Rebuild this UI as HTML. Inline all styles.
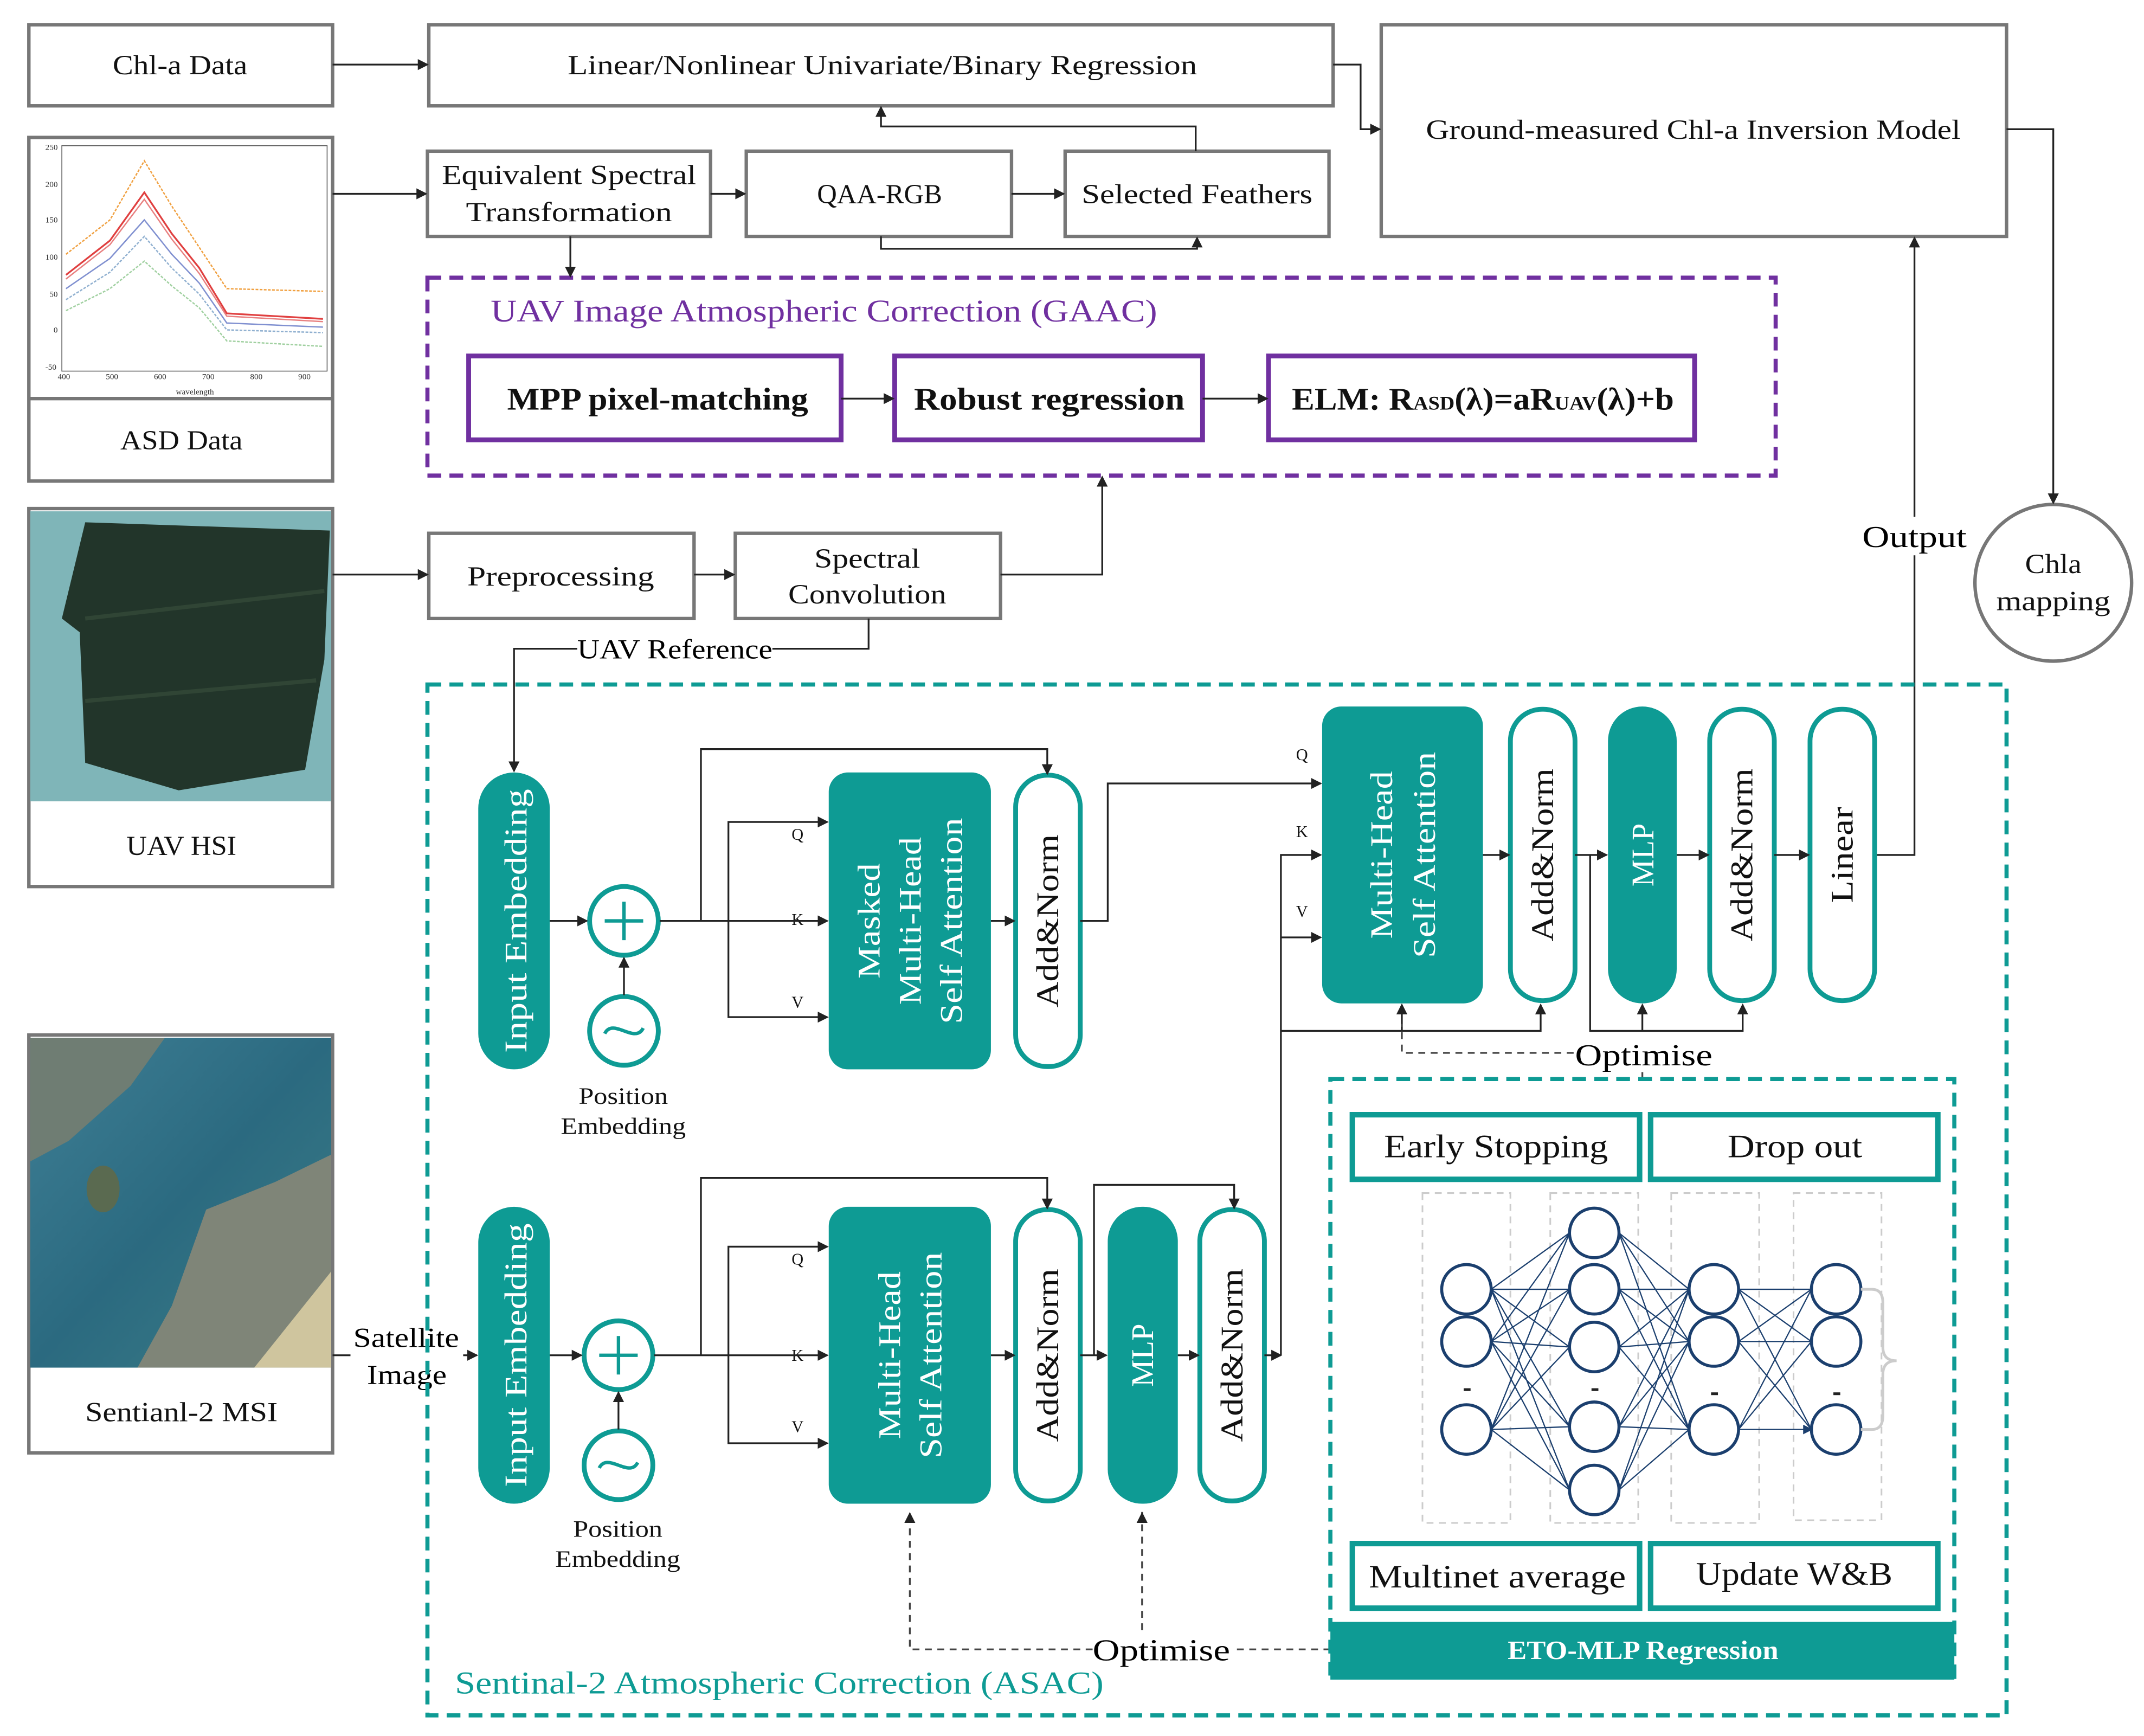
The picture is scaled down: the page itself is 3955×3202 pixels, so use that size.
<!DOCTYPE html>
<html><head><meta charset="utf-8"><style>
html,body{margin:0;padding:0;background:#fff;}
svg{display:block;}
text{font-family:"Liberation Serif",serif;}
</style></head><body>
<svg width="3955" height="3202" viewBox="0 0 1560 1263" xmlns="http://www.w3.org/2000/svg">
<defs>
<marker id="a" markerWidth="8" markerHeight="8" refX="7" refY="4" orient="auto" markerUnits="userSpaceOnUse"><path d="M0,0 L8,4 L0,8 z" fill="#222"/></marker>
<marker id="n" markerWidth="7" markerHeight="7" refX="6" refY="3.5" orient="auto" markerUnits="userSpaceOnUse"><path d="M0,0 L7,3.5 L0,7 z" fill="#1b3f6e"/></marker>
<linearGradient id="sea" x1="0" y1="0" x2="1" y2="1"><stop offset="0" stop-color="#3f7f95"/><stop offset="0.5" stop-color="#2b6a80"/><stop offset="1" stop-color="#3d7f86"/></linearGradient>
</defs>
<rect width="1560" height="1263" fill="#fff"/>
<g fill="none" stroke="#777" stroke-width="2.5">
<rect x="21" y="18" width="221" height="59"/>
<rect x="312" y="18" width="658" height="59"/>
<rect x="1005" y="18" width="455" height="154"/>
<rect x="21" y="100" width="221" height="250"/>
<line x1="21" y1="290" x2="242" y2="290"/>
<rect x="311" y="110" width="206" height="62"/>
<rect x="543" y="110" width="193" height="62"/>
<rect x="775" y="110" width="192" height="62"/>
<rect x="21" y="370" width="221" height="275"/>
<rect x="312" y="388" width="193" height="62"/>
<rect x="535" y="388" width="193" height="62"/>
<rect x="21" y="753" width="221" height="304"/>
<circle cx="1494" cy="424" r="57"/>
</g>
<!-- ASD chart -->
<g>
<rect x="45" y="106" width="193" height="164" fill="#fff" stroke="#555" stroke-width="0.6"/>
<g font-size="6" fill="#333">
<text x="33" y="109">250</text><text x="33" y="136">200</text><text x="33" y="162">150</text><text x="33" y="189">100</text><text x="36" y="216">50</text><text x="39" y="242">0</text><text x="33" y="269">-50</text>
<text x="42" y="276">400</text><text x="77" y="276">500</text><text x="112" y="276">600</text><text x="147" y="276">700</text><text x="182" y="276">800</text><text x="217" y="276">900</text>
<text x="128" y="287">wavelength</text>
</g>
<path d="M48,185 L80,160 L105,117 L125,150 L145,180 L165,210 L235,212" fill="none" stroke="#f0a040" stroke-width="1" stroke-dasharray="2,1"/>
<path d="M48,200 L80,175 L105,140 L125,170 L145,195 L165,228 L235,232" fill="none" stroke="#e04040" stroke-width="1.3"/>
<path d="M48,203 L80,178 L105,145 L125,174 L145,199 L165,230 L235,234" fill="none" stroke="#e88080" stroke-width="1"/>
<path d="M48,210 L80,188 L105,160 L125,185 L145,206 L165,235 L235,238" fill="none" stroke="#8090d0" stroke-width="1"/>
<path d="M48,218 L80,198 L105,172 L125,195 L145,214 L165,240 L235,242" fill="none" stroke="#90b0d0" stroke-width="1" stroke-dasharray="2,1"/>
<path d="M48,226 L80,210 L105,190 L125,208 L145,224 L165,248 L235,252" fill="none" stroke="#a0d0a0" stroke-width="1" stroke-dasharray="2,1"/>
</g>
<!-- UAV HSI image -->
<rect x="22" y="372" width="219" height="211" fill="#7fb5b8"/>
<path d="M62,380 L240,386 L236,480 L222,560 L130,575 L62,555 L58,460 L45,450 Z" fill="#22352a"/>
<path d="M62,450 L236,430 M62,510 L230,495" stroke="#304535" stroke-width="3"/>
<!-- Sentinel image -->
<rect x="22" y="755" width="219" height="240" fill="url(#sea)"/>
<path d="M22,755 L120,755 L95,790 L50,830 L22,845 Z" fill="#6f7d73"/>
<path d="M150,880 L200,860 L241,840 L241,995 L100,995 L125,950 Z" fill="#7f8578"/>
<path d="M185,995 L241,925 L241,995 Z" fill="#cfc59e"/>
<ellipse cx="75" cy="865" rx="12" ry="17" fill="#5a6a50"/>
<!-- labels -->
<g font-size="20" fill="#111" text-anchor="middle" lengthAdjust="spacingAndGlyphs">
<text x="131" y="54" textLength="98" lengthAdjust="spacingAndGlyphs">Chl-a Data</text>
<text x="642" y="54" textLength="458" lengthAdjust="spacingAndGlyphs">Linear/Nonlinear Univariate/Binary Regression</text>
<text x="1232" y="101" textLength="389" lengthAdjust="spacingAndGlyphs">Ground-measured Chl-a Inversion Model</text>
<text x="414" y="134" textLength="185" lengthAdjust="spacingAndGlyphs">Equivalent Spectral</text>
<text x="414" y="161" textLength="150" lengthAdjust="spacingAndGlyphs">Transformation</text>
<text x="640" y="148" textLength="91" lengthAdjust="spacingAndGlyphs">QAA-RGB</text>
<text x="871" y="148" textLength="168" lengthAdjust="spacingAndGlyphs">Selected Feathers</text>
<text x="132" y="327" textLength="89" lengthAdjust="spacingAndGlyphs">ASD Data</text>
<text x="408" y="426" textLength="136" lengthAdjust="spacingAndGlyphs">Preprocessing</text>
<text x="631" y="413" textLength="77" lengthAdjust="spacingAndGlyphs">Spectral</text>
<text x="631" y="439" textLength="115" lengthAdjust="spacingAndGlyphs">Convolution</text>
<text x="132" y="622" textLength="80" lengthAdjust="spacingAndGlyphs">UAV HSI</text>
<text x="132" y="1034" textLength="140" lengthAdjust="spacingAndGlyphs">Sentianl-2 MSI</text>
<text x="1494" y="417" textLength="41" lengthAdjust="spacingAndGlyphs">Chla</text>
<text x="1494" y="444" textLength="83" lengthAdjust="spacingAndGlyphs">mapping</text>
</g>
<!-- GAAC -->
<rect x="311" y="202" width="981" height="144" fill="none" stroke="#7030a0" stroke-width="3" stroke-dasharray="10,6"/>
<text x="357" y="234" font-size="23" fill="#7030a0" textLength="485" lengthAdjust="spacingAndGlyphs">UAV Image Atmospheric Correction (GAAC)</text>
<g fill="none" stroke="#7030a0" stroke-width="3.5">
<rect x="341" y="259" width="271" height="61"/><rect x="651" y="259" width="224" height="61"/><rect x="923" y="259" width="310" height="61"/>
</g>
<g font-size="23" font-weight="bold" fill="#111">
<text x="369" y="298" textLength="219" lengthAdjust="spacingAndGlyphs">MPP pixel-matching</text>
<text x="665" y="298" textLength="197" lengthAdjust="spacingAndGlyphs">Robust regression</text>
<text x="940" y="298" textLength="278" lengthAdjust="spacingAndGlyphs">ELM: R<tspan font-size="14">ASD</tspan>(λ)=aR<tspan font-size="14">UAV</tspan>(λ)+b</text>
</g>
<!-- top connectors -->
<g fill="none" stroke="#222" stroke-width="1.3" marker-end="url(#a)">
<path d="M242,47 H311"/>
<path d="M970,47 H990 V94 H1004"/>
<path d="M242,141 H310"/>
<path d="M517,141 H542"/>
<path d="M736,141 H774"/>
<path d="M870,110 V92 H641 V78"/>
<path d="M641,172 V181 H871 V173"/>
<path d="M415,172 V201"/>
<path d="M612,290 H650"/>
<path d="M875,290 H922"/>
<path d="M242,418 H311"/>
<path d="M505,418 H534"/>
<path d="M728,418 H802 V347"/>
<path d="M632,450 V472 H374 V561"/>
<path d="M1365,622 H1393 V173"/>
<path d="M1460,94 H1494 V366"/>
<path d="M242,986 H347"/>
</g>
<rect x="420" y="461" width="142" height="22" fill="#fff"/>
<text x="420" y="479" font-size="20" textLength="142" lengthAdjust="spacingAndGlyphs">UAV Reference</text>
<rect x="1355" y="376" width="78" height="28" fill="#fff"/>
<text x="1355" y="398" font-size="22" textLength="76" lengthAdjust="spacingAndGlyphs">Output</text>
<rect x="255" y="960" width="82" height="52" fill="#fff"/>
<text x="257" y="980" font-size="20" textLength="77" lengthAdjust="spacingAndGlyphs">Satellite</text>
<text x="267" y="1007" font-size="20" textLength="58" lengthAdjust="spacingAndGlyphs">Image</text>
<!-- ASAC -->
<rect x="311" y="498" width="1149" height="750" fill="none" stroke="#0e9b94" stroke-width="3" stroke-dasharray="10,6"/>
<text x="331" y="1232" font-size="23" fill="#0e9b94" textLength="472" lengthAdjust="spacingAndGlyphs">Sentinal-2 Atmospheric Correction (ASAC)</text>
<!-- transformer blocks -->
<g fill="#0e9b94">
<rect x="348" y="562" width="52" height="216" rx="26"/>
<rect x="603" y="562" width="118" height="216" rx="14"/>
<rect x="962" y="514" width="117" height="216" rx="14"/>
<rect x="1170" y="514" width="50" height="216" rx="25"/>
<rect x="348" y="878" width="52" height="216" rx="26"/>
<rect x="603" y="878" width="118" height="216" rx="14"/>
<rect x="806" y="878" width="51" height="216" rx="25"/>
</g>
<g fill="#fff" stroke="#0e9b94" stroke-width="3.5">
<rect x="739" y="564" width="47" height="212" rx="23"/>
<rect x="1099" y="516" width="47" height="212" rx="23"/>
<rect x="1244" y="516" width="47" height="212" rx="23"/>
<rect x="1317" y="516" width="47" height="212" rx="23"/>
<rect x="739" y="880" width="47" height="212" rx="23"/>
<rect x="873" y="880" width="47" height="212" rx="23"/>
<circle cx="454" cy="670" r="25"/><circle cx="454" cy="750" r="25"/>
<circle cx="450" cy="986" r="25"/><circle cx="450" cy="1066" r="25"/>
</g>
<g stroke="#0e9b94" stroke-width="2.5" fill="none">
<path d="M454,656 V684 M440,670 H468"/><path d="M450,972 V1000 M436,986 H464"/>
<path d="M440,752 C446,740 462,760 468,748"/><path d="M436,1068 C442,1056 458,1076 464,1064"/>
</g>
<g font-size="23" text-anchor="middle">
<text transform="translate(383,670) rotate(-90)" fill="#fff" textLength="192" lengthAdjust="spacingAndGlyphs">Input Embedding</text>
<text transform="translate(383,986) rotate(-90)" fill="#fff" textLength="192" lengthAdjust="spacingAndGlyphs">Input Embedding</text>
<text transform="translate(640,670) rotate(-90)" fill="#fff" textLength="84" lengthAdjust="spacingAndGlyphs">Masked</text>
<text transform="translate(670,670) rotate(-90)" fill="#fff" textLength="122" lengthAdjust="spacingAndGlyphs">Multi-Head</text>
<text transform="translate(700,670) rotate(-90)" fill="#fff" textLength="150" lengthAdjust="spacingAndGlyphs">Self Attention</text>
<text transform="translate(655,986) rotate(-90)" fill="#fff" textLength="122" lengthAdjust="spacingAndGlyphs">Multi-Head</text>
<text transform="translate(685,986) rotate(-90)" fill="#fff" textLength="150" lengthAdjust="spacingAndGlyphs">Self Attention</text>
<text transform="translate(1013,622) rotate(-90)" fill="#fff" textLength="122" lengthAdjust="spacingAndGlyphs">Multi-Head</text>
<text transform="translate(1044,622) rotate(-90)" fill="#fff" textLength="150" lengthAdjust="spacingAndGlyphs">Self Attention</text>
<text transform="translate(1203,622) rotate(-90)" fill="#fff" textLength="46" lengthAdjust="spacingAndGlyphs">MLP</text>
<text transform="translate(839,986) rotate(-90)" fill="#fff" textLength="46" lengthAdjust="spacingAndGlyphs">MLP</text>
<text transform="translate(770,670) rotate(-90)" fill="#111" textLength="126" lengthAdjust="spacingAndGlyphs">Add&amp;Norm</text>
<text transform="translate(770,986) rotate(-90)" fill="#111" textLength="126" lengthAdjust="spacingAndGlyphs">Add&amp;Norm</text>
<text transform="translate(904,986) rotate(-90)" fill="#111" textLength="126" lengthAdjust="spacingAndGlyphs">Add&amp;Norm</text>
<text transform="translate(1130,622) rotate(-90)" fill="#111" textLength="126" lengthAdjust="spacingAndGlyphs">Add&amp;Norm</text>
<text transform="translate(1275,622) rotate(-90)" fill="#111" textLength="126" lengthAdjust="spacingAndGlyphs">Add&amp;Norm</text>
<text transform="translate(1348,622) rotate(-90)" fill="#111" textLength="70" lengthAdjust="spacingAndGlyphs">Linear</text>
</g>
<g font-size="17" fill="#111">
<text x="421" y="803" textLength="65" lengthAdjust="spacingAndGlyphs">Position</text><text x="408" y="825" textLength="91" lengthAdjust="spacingAndGlyphs">Embedding</text>
<text x="417" y="1118" textLength="65" lengthAdjust="spacingAndGlyphs">Position</text><text x="404" y="1140" textLength="91" lengthAdjust="spacingAndGlyphs">Embedding</text>
</g>
<g font-size="12" fill="#111">
<text x="576" y="611">Q</text><text x="576" y="673">K</text><text x="576" y="733">V</text>
<text x="576" y="920">Q</text><text x="576" y="990">K</text><text x="576" y="1042">V</text>
<text x="943" y="553">Q</text><text x="943" y="609">K</text><text x="943" y="667">V</text>
</g>
<g fill="none" stroke="#222" stroke-width="1.3" marker-end="url(#a)">
<path d="M400,670 H427"/><path d="M454,724 V697"/>
<path d="M480,670 H602"/>
<path d="M510,670 V545 H762 V563"/>
<path d="M530,670 V598 H602"/><path d="M530,670 V740 H602"/>
<path d="M721,670 H738"/>
<path d="M786,670 H806 V570 H961"/>
<path d="M932,986 V622 H961"/><path d="M932,682 H961"/>
<path d="M932,750 H1121 V731"/><path d="M1020,750 V731"/>
<path d="M1079,622 H1098"/><path d="M1146,622 H1169"/>
<path d="M1157,622 V750 H1268 V731"/><path d="M1195,750 V731"/>
<path d="M1220,622 H1243"/><path d="M1291,622 H1316"/>
<path d="M400,986 H423"/><path d="M450,1040 V1013"/>
<path d="M476,986 H602"/>
<path d="M510,986 V857 H762 V879"/>
<path d="M530,986 V907 H602"/><path d="M530,986 V1050 H602"/>
<path d="M721,986 H738"/><path d="M786,986 H805"/>
<path d="M796,986 V862 H898 V879"/>
<path d="M857,986 H872"/><path d="M920,986 H932"/>
</g>
<g fill="none" stroke="#444" stroke-width="1.3" stroke-dasharray="5,4">
<path d="M1145,766 H1020 V745"/><path d="M1195,785 V778"/>
<path d="M968,1200 H898"/><path d="M795,1200 H662 V1100"/><path d="M831,1186 V1100"/>
</g>
<path d="M662,1100 l-4,8 h8z M831,1100 l-4,8 h8z" fill="#222"/>
<text x="1146" y="775" font-size="22" textLength="100" lengthAdjust="spacingAndGlyphs">Optimise</text>
<text x="795" y="1208" font-size="22" textLength="100" lengthAdjust="spacingAndGlyphs">Optimise</text>
<!-- ETO -->
<rect x="968" y="785" width="454" height="435" fill="none" stroke="#0e9b94" stroke-width="3" stroke-dasharray="10,6"/>
<rect x="968" y="1180" width="454" height="42" fill="#0e9b94"/>
<text x="1097" y="1207" font-size="19" font-weight="bold" fill="#fff" textLength="197" lengthAdjust="spacingAndGlyphs">ETO-MLP Regression</text>
<g fill="#fff" stroke="#0e9b94" stroke-width="4">
<rect x="984" y="811" width="209" height="47"/><rect x="1201" y="811" width="209" height="47"/>
<rect x="984" y="1123" width="209" height="47"/><rect x="1201" y="1123" width="209" height="47"/>
</g>
<g font-size="24" fill="#111">
<text x="1007" y="842" textLength="163" lengthAdjust="spacingAndGlyphs">Early Stopping</text><text x="1257" y="842" textLength="98" lengthAdjust="spacingAndGlyphs">Drop out</text>
<text x="996" y="1155" textLength="187" lengthAdjust="spacingAndGlyphs">Multinet average</text><text x="1234" y="1153" textLength="143" lengthAdjust="spacingAndGlyphs">Update W&amp;B</text>
</g>
<g fill="none" stroke="#ccc" stroke-width="1.2" stroke-dasharray="5,4">
<rect x="1035" y="868" width="64" height="240"/><rect x="1128" y="868" width="64" height="240"/>
<rect x="1216" y="868" width="64" height="240"/><rect x="1305" y="868" width="64" height="238"/>
</g>
<g stroke="#1b3f6e" stroke-width="0.9" marker-end="url(#n)">
<path d="M1085,938 L1142,897 M1085,938 L1142,938 M1085,938 L1142,980 M1085,938 L1142,1038 M1085,938 L1142,1084
M1085,976 L1142,897 M1085,976 L1142,938 M1085,976 L1142,980 M1085,976 L1142,1038 M1085,976 L1142,1084
M1085,1040 L1142,897 M1085,1040 L1142,938 M1085,1040 L1142,980 M1085,1040 L1142,1038 M1085,1040 L1142,1084
M1178,897 L1229,938 M1178,897 L1229,976 M1178,897 L1229,1040 M1178,938 L1229,938 M1178,938 L1229,976 M1178,938 L1229,1040
M1178,980 L1229,938 M1178,980 L1229,976 M1178,980 L1229,1040 M1178,1038 L1229,938 M1178,1038 L1229,976 M1178,1038 L1229,1040
M1178,1084 L1229,938 M1178,1084 L1229,976 M1178,1084 L1229,1040
M1265,938 L1318,938 M1265,938 L1318,976 M1265,938 L1318,1040 M1265,976 L1318,938 M1265,976 L1318,976 M1265,976 L1318,1040
M1265,1040 L1318,938 M1265,1040 L1318,976 M1265,1040 L1318,1040"/>
</g>
<g fill="#fff" stroke="#1b3f6e" stroke-width="2.2">
<circle cx="1067" cy="938" r="18"/><circle cx="1067" cy="976" r="18"/><circle cx="1067" cy="1040" r="18"/>
<circle cx="1160" cy="897" r="18"/><circle cx="1160" cy="938" r="18"/><circle cx="1160" cy="980" r="18"/><circle cx="1160" cy="1038" r="18"/><circle cx="1160" cy="1084" r="18"/>
<circle cx="1247" cy="938" r="18"/><circle cx="1247" cy="976" r="18"/><circle cx="1247" cy="1040" r="18"/>
<circle cx="1336" cy="938" r="18"/><circle cx="1336" cy="976" r="18"/><circle cx="1336" cy="1040" r="18"/>
</g>
<g fill="#222"><rect x="1065" y="1010" width="5" height="2"/><rect x="1158" y="1010" width="5" height="2"/><rect x="1245" y="1013" width="5" height="2"/><rect x="1334" y="1013" width="5" height="2"/></g>
<path d="M1354,938 H1362 Q1370,938 1370,948 V980 Q1370,990 1380,990 Q1370,990 1370,1000 V1030 Q1370,1040 1362,1040 H1354" fill="none" stroke="#ccc" stroke-width="2"/>
</svg>
</body></html>
